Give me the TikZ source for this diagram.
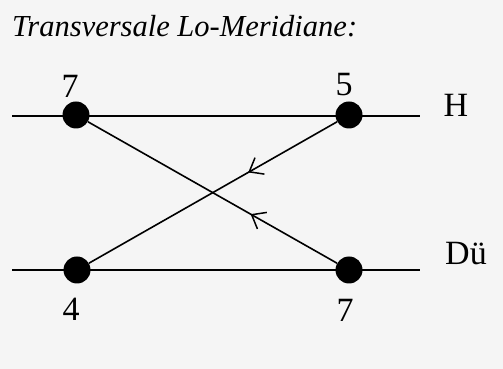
\documentclass[tikz,border=0pt]{standalone}
\usepackage{fontspec}
\setmainfont{Liberation Serif}
\usetikzlibrary{arrows.meta,decorations.markings}
\tikzset{barbtip/.tip={Straight Barb[length=12pt,width=19pt,line width=1.5pt]}}
\begin{document}
\begin{tikzpicture}[x=1pt,y=1pt,
  dot/.style={circle,fill=black,inner sep=0pt,minimum size=27pt},
  lbl/.style={font=\fontsize{34}{38}\selectfont,inner sep=0pt},
  wire/.style={line width=1.6pt},
  markat/.style={postaction={decorate},decoration={markings,mark=at position #1 with {\arrow{barbtip}}}}
]
\fill[black!4] (0,0) rectangle (503,369);
\useasboundingbox (0,0) rectangle (503,369);
% title
\node[anchor=base west,inner sep=0pt] (title) at (12,332)
  {\resizebox{345pt}{!}{\fontsize{33}{36}\selectfont\itshape Transversale Lo-Meridiane:}};
% line end points
\coordinate (hL) at (12,253);
\coordinate (hR) at (420,253);
\coordinate (dL) at (12,99);
\coordinate (dR) at (420,99);
% dots
\node[dot] (a7) at (76,254) {};
\node[dot] (a5) at (349,254) {};
\node[dot] (b4) at (77,99) {};
\node[dot] (b7) at (349,99) {};
% lines
\draw[wire] (hL) -- (hR);
\draw[wire] (dL) -- (dR);
\draw[wire,markat=0.358] (a5) -- (b4);
\draw[wire,markat=0.347] (b7) -- (a7);
% labels
\node[lbl] (l7a) at (70,283) {7};
\node[lbl] (l5) at (344,284) {5};
\node[lbl] (lH) at (456,264) {H};
\node[lbl] (lD) at (466,115) {Dü};
\node[lbl] (l4) at (71,60) {4};
\node[lbl] (l7b) at (345,59) {7};
\end{tikzpicture}
\end{document}
